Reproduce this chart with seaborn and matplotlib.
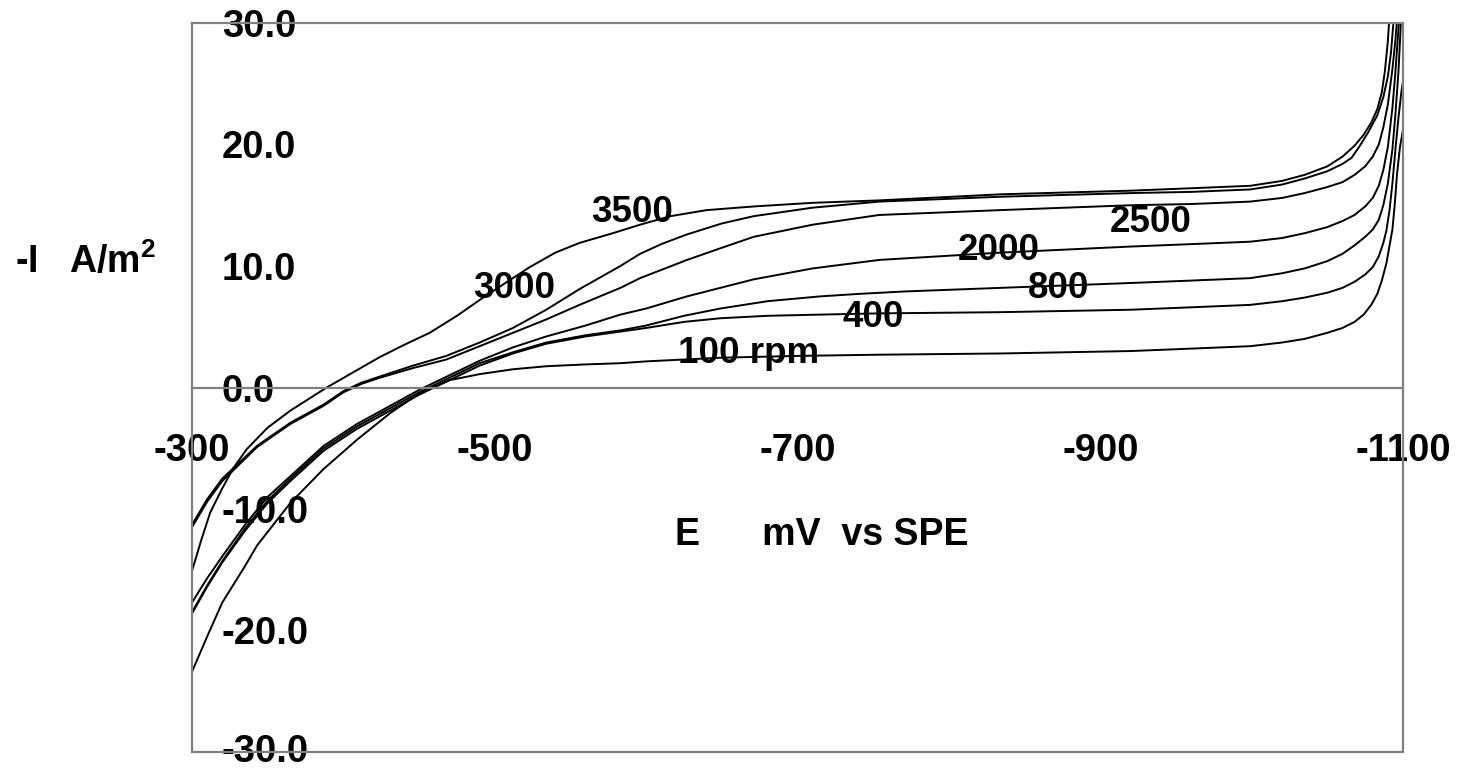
import matplotlib
matplotlib.use('Agg')
import matplotlib.pyplot as plt
import numpy as np
import pandas as pd
import seaborn as sns

# potential (mV vs SPE) and current density (-I, A/m2) for each rotation rate
E_3500 = [-300, -306, -312, -320, -327, -336, -350, -365, -389, -410, -424, -440, -457, -475, -490,
          -507, -523, -540, -556, -578, -596, -616, -640, -671, -710, -754, -834, -920, -960, -999,
          -1020, -1035, -1050, -1060, -1068, -1074, -1079, -1083, -1086, -1088, -1090, -1091, -1092]
I_3500 = [-15.1, -12.6, -10.3, -8.3, -6.7, -5.1, -3.3, -1.9, 0.0, 1.5, 2.5, 3.5, 4.5, 5.9, 7.2,
          8.6, 9.9, 11.1, 11.9, 12.7, 13.4, 14.1, 14.6, 14.9, 15.2, 15.4, 15.9, 16.2, 16.4, 16.6,
          17.0, 17.5, 18.2, 19.0, 19.9, 20.8, 21.8, 22.9, 24.3, 26.0, 28.5, 30.5, 32.0]

E_3000 = [-300, -310, -320, -343, -365, -387, -400, -412, -424, -446, -468, -490, -512, -534, -556,
          -583, -596, -610, -627, -650, -671, -710, -754, -834, -920, -960, -999, -1020, -1035,
          -1050, -1060, -1066, -1071, -1077, -1083, -1087, -1090, -1092, -1094, -1095]
I_3000 = [-11.3, -9.2, -7.5, -4.8, -2.9, -1.4, -0.3, 0.4, 0.9, 1.8, 2.6, 3.7, 4.9, 6.4, 8.1,
          10.0, 11.0, 11.8, 12.6, 13.5, 14.1, 14.8, 15.3, 15.7, 16.0, 16.1, 16.3, 16.7, 17.2,
          17.8, 18.4, 18.9, 19.8, 21.0, 22.4, 23.9, 25.6, 27.5, 30.5, 32.0]

E_2500 = [-300, -310, -320, -343, -365, -387, -400, -412, -424, -446, -468, -490, -512, -534, -556,
          -583, -596, -627, -650, -671, -710, -754, -834, -920, -960, -999, -1020, -1035, -1050,
          -1060, -1068, -1075, -1080, -1084, -1087, -1090, -1093, -1095, -1096.5, -1097]
I_2500 = [-11.5, -9.4, -7.7, -4.9, -3.0, -1.5, -0.4, 0.3, 0.8, 1.6, 2.3, 3.4, 4.5, 5.6, 6.8,
          8.2, 9.0, 10.5, 11.5, 12.4, 13.4, 14.2, 14.6, 15.0, 15.1, 15.3, 15.6, 16.0, 16.5,
          16.9, 17.5, 18.2, 19.0, 20.0, 21.4, 23.3, 26.2, 28.6, 31.0, 32.0]

E_2000 = [-300, -310, -320, -335, -350, -365, -387, -409, -431, -450, -470, -490, -512, -534, -560,
          -583, -600, -627, -671, -710, -754, -834, -920, -960, -999, -1020, -1035, -1050, -1060,
          -1068, -1075, -1080, -1084, -1087, -1090, -1093, -1095, -1097, -1098]
I_2000 = [-17.7, -15.7, -13.9, -11.3, -9.0, -7.3, -4.8, -3.0, -1.5, -0.2, 1.0, 2.2, 3.3, 4.2, 5.1,
          6.0, 6.5, 7.5, 8.9, 9.8, 10.5, 11.1, 11.6, 11.8, 12.0, 12.3, 12.7, 13.2, 13.7,
          14.2, 14.9, 15.6, 16.6, 17.9, 19.8, 23.0, 26.0, 29.5, 32.0]

E_800 = [-300, -310, -320, -335, -350, -365, -387, -409, -431, -450, -470, -490, -512, -534, -560,
         -583, -600, -625, -649, -680, -715, -740, -770, -834, -920, -960, -999, -1020, -1035, -1050,
         -1060, -1068, -1075, -1080, -1084, -1087, -1090, -1093, -1095, -1097, -1099]
I_800 = [-18.5, -16.3, -14.3, -11.6, -9.3, -7.5, -5.0, -3.2, -1.7, -0.4, 0.8, 2.0, 2.9, 3.7, 4.3,
         4.7, 5.1, 5.9, 6.5, 7.1, 7.5, 7.7, 7.9, 8.2, 8.6, 8.8, 9.0, 9.4, 9.8, 10.4,
         11.0, 11.7, 12.4, 13.0, 13.8, 15.0, 16.8, 19.6, 22.5, 26.0, 31.0]

E_400 = [-300, -310, -320, -335, -350, -365, -387, -409, -431, -450, -470, -490, -512, -534, -560,
         -583, -600, -625, -649, -680, -715, -754, -834, -920, -960, -999, -1020, -1035, -1050,
         -1060, -1068, -1075, -1080, -1084, -1087, -1089, -1091, -1093, -1095, -1097, -1099, -1100]
I_400 = [-18.6, -16.4, -14.4, -11.8, -9.5, -7.7, -5.2, -3.4, -1.9, -0.6, 0.6, 1.8, 2.8, 3.6, 4.2,
         4.6, 4.9, 5.4, 5.7, 5.9, 6.0, 6.1, 6.2, 6.4, 6.6, 6.8, 7.1, 7.4, 7.8,
         8.2, 8.7, 9.3, 9.9, 10.8, 11.9, 12.9, 14.5, 16.8, 19.6, 22.2, 24.4, 25.2]

E_100 = [-300, -310, -320, -335, -343, -365, -387, -409, -431, -450, -470, -490, -512, -534, -560,
         -583, -600, -649, -700, -754, -834, -920, -960, -999, -1020, -1035, -1050, -1060, -1068,
         -1074, -1079, -1083, -1086, -1089, -1091, -1093, -1094.5, -1096, -1098, -1100]
I_100 = [-23.4, -20.5, -17.7, -14.7, -13.0, -9.5, -6.7, -4.3, -2.1, -0.5, 0.6, 1.1, 1.5, 1.75, 1.9,
         2.0, 2.15, 2.45, 2.6, 2.7, 2.8, 3.0, 3.2, 3.4, 3.7, 4.0, 4.5, 4.9, 5.4,
         6.0, 6.8, 7.7, 8.8, 10.2, 11.6, 13.0, 15.0, 17.5, 19.8, 21.2]

X_TICKS = [-300, -500, -700, -900, -1100]
Y_TICKS = [-30, -20, -10, 0, 10, 20, 30]

# curve labels: text, E, I (baseline position)
LABELS = [
    ('3500', -590.6, 13.64),
    ('3000', -512.7, 7.40),
    ('2500', -933.4, 12.82),
    ('2000', -833.0, 10.52),
    ('800', -872.7, 7.40),
    ('400', -749.8, 5.01),
    ('100 rpm', -667.9, 2.05),
]

curves = [('3500', E_3500, I_3500), ('3000', E_3000, I_3000), ('2500', E_2500, I_2500),
          ('2000', E_2000, I_2000), ('800', E_800, I_800), ('400', E_400, I_400),
          ('100', E_100, I_100)]
df = pd.concat([pd.DataFrame({'E': e, 'I': i, 'rpm': r}) for r, e, i in curves],
               ignore_index=True)

sns.set_style('white')
plt.rcParams['font.family'] = ['Liberation Sans', 'DejaVu Sans']
plt.rcParams['font.weight'] = 'bold'
plt.rcParams['text.color'] = 'black'
plt.rcParams['xtick.labelcolor'] = 'black'
plt.rcParams['ytick.labelcolor'] = 'black'
plt.rcParams['mathtext.fontset'] = 'custom'
plt.rcParams['mathtext.rm'] = 'Liberation Sans:bold'
plt.rcParams['mathtext.bf'] = 'Liberation Sans:bold'

W, H = 1460, 771
fig = plt.figure(figsize=(W / 100, H / 100), dpi=100)
ax = fig.add_axes([192 / W, 1 - 752 / H, (1403 - 192) / W, (752 - 23) / H])

sns.lineplot(data=df, x='E', y='I', hue='rpm', estimator=None, sort=False,
             palette={r: 'black' for r, _, _ in curves}, legend=False,
             linewidth=1.4, ax=ax)

ax.set_xlim(-300, -1100)
ax.set_ylim(-30, 30)
ax.set_xticks(X_TICKS)
ax.set_xticklabels([str(v) for v in X_TICKS])
ax.set_yticks(Y_TICKS)
ax.set_yticklabels(['%.1f' % v for v in Y_TICKS])
ax.set_xlabel('')
ax.set_ylabel('')

gray = '#808080'
for s in ax.spines.values():
    s.set_color(gray)
    s.set_linewidth(1.6)
    s.set_visible(True)
ax.spines['bottom'].set_position(('data', 0))
ax.axhline(-30, color=gray, lw=1.6, clip_on=False)

ax.tick_params(axis='x', direction='out', length=8.6, width=1.0, color=gray,
               labelsize=27.5, labelcolor='black', pad=24)
ax.tick_params(axis='y', direction='in', length=8.6, width=1.0, color='#333333',
               labelsize=27.5, labelcolor='black', pad=-21.6)
ylabels = ax.get_yticklabels()
for lbl in ylabels:
    lbl.set_horizontalalignment('left')
# bottom label sits on the figure edge; lift it a little so it stays whole
ylabels[0].set_verticalalignment('center')

for txt, x, y in LABELS:
    ax.text(x, y, txt, ha='center', va='baseline', fontsize=26.5, fontweight='bold',
            color='black')

fig.text(15 / W, 1 - 273 / H, '-I   A/m$^{2}$', ha='left', va='baseline',
         fontsize=27, fontweight='bold', color='black')
fig.text(675 / W, 1 - 545 / H, 'E      mV  vs SPE', ha='left', va='baseline',
         fontsize=27, fontweight='bold', color='black')

fig.savefig('out.png', dpi=100)
